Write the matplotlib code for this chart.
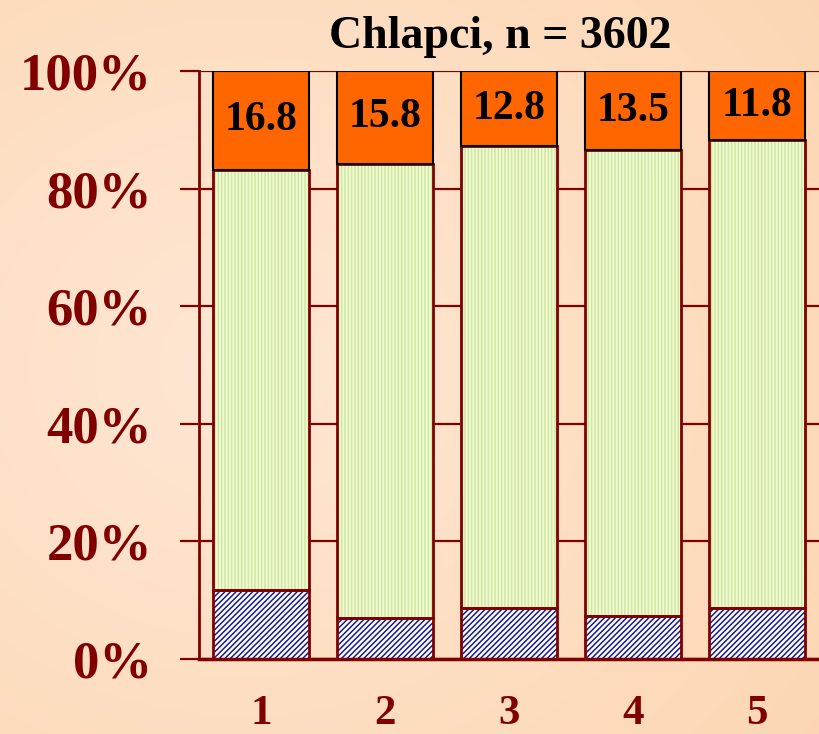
import matplotlib.pyplot as plt
import numpy as np

# Data
categories = ["1", "2", "3", "4", "5"]
blue_vals = [11.7, 7.0, 8.7, 7.3, 8.7]
orange_vals = [16.8, 15.8, 12.8, 13.5, 11.8]
green_vals = [100 - b - o for b, o in zip(blue_vals, orange_vals)]
orange_labels = ["16.8", "15.8", "12.8", "13.5", "11.8"]
title = "Chlapci, n = 3602"

dark_red = "#800000"
plt.rcParams["font.family"] = ["Liberation Serif", "DejaVu Serif"]
plt.rcParams["hatch.linewidth"] = 1.1

fig = plt.figure(figsize=(8.19, 7.34), dpi=100)

# peach radial background
bg = fig.add_axes([0, 0, 1, 1], zorder=-10)
yy, xx = np.mgrid[0:1:300j, 0:1:300j]
r = np.sqrt((xx - 0.3) ** 2 + (yy - 0.5) ** 2)
r = np.clip(r / 0.9, 0, 1)
c_in = np.array([255, 231, 212]) / 255
c_out = np.array([252, 214, 178]) / 255
img = c_in[None, None, :] * (1 - r[..., None]) + c_out[None, None, :] * r[..., None]
bg.imshow(img, aspect="auto", extent=[0, 1, 0, 1])
bg.axis("off")

ax = fig.add_axes([199 / 819, 75 / 734, 620 / 819, 588 / 734])
ax.patch.set_alpha(0)

x = np.arange(1, len(categories) + 1)
w = 0.77

# blue hatched bottom
ax.bar(x, blue_vals, w, color="white", edgecolor="#1a1a90", hatch="//////", linewidth=0, zorder=2)
ax.bar(x, blue_vals, w, fill=False, edgecolor=dark_red, linewidth=2, zorder=3)
# green striped middle
ax.bar(x, green_vals, w, bottom=blue_vals, color="#f2f9d6", edgecolor="#cfe8a0",
       hatch="|||||", linewidth=0, zorder=2)
ax.bar(x, green_vals, w, bottom=blue_vals, fill=False, edgecolor=dark_red, linewidth=2, zorder=3)
# orange top
bottoms = [b + g for b, g in zip(blue_vals, green_vals)]
ax.bar(x, orange_vals, w, bottom=bottoms, color="#ff6600", edgecolor="black", linewidth=1.5, zorder=3)

for xi, b, o, lab in zip(x, bottoms, orange_vals, orange_labels):
    ax.text(xi, b + o / 2, lab, ha="center", va="center", fontsize=30,
            fontweight="bold", color="black", zorder=4)

ax.set_xlim(0.5, 5.5)
ax.set_ylim(0, 100)
ax.set_yticks([0, 20, 40, 60, 80, 100])
ax.set_yticklabels(["0%", "20%", "40%", "60%", "80%", "100%"])
ax.set_xticks(x)
ax.set_xticklabels(categories)
ax.yaxis.grid(True, color=dark_red, linewidth=1.6, zorder=0)
ax.set_axisbelow(True)

ax.tick_params(axis="y", direction="out", length=14, width=1.6, color=dark_red,
               labelsize=38, labelcolor=dark_red, pad=20)
ax.tick_params(axis="x", length=0, labelsize=31, labelcolor=dark_red, pad=26)
for lab in ax.get_xticklabels() + ax.get_yticklabels():
    lab.set_fontweight("bold")

for s in ["top", "right"]:
    ax.spines[s].set_visible(False)
ax.spines["left"].set_color(dark_red)
ax.spines["left"].set_linewidth(2)
ax.spines["bottom"].set_color(dark_red)
ax.spines["bottom"].set_linewidth(2.5)
ax.spines["bottom"].set_bounds(0.5, 5.5)

fig.text(0.611, 0.949, title, ha="center", va="center", fontsize=33,
         fontweight="bold", color="black")

fig.savefig("out.png", dpi=100)
